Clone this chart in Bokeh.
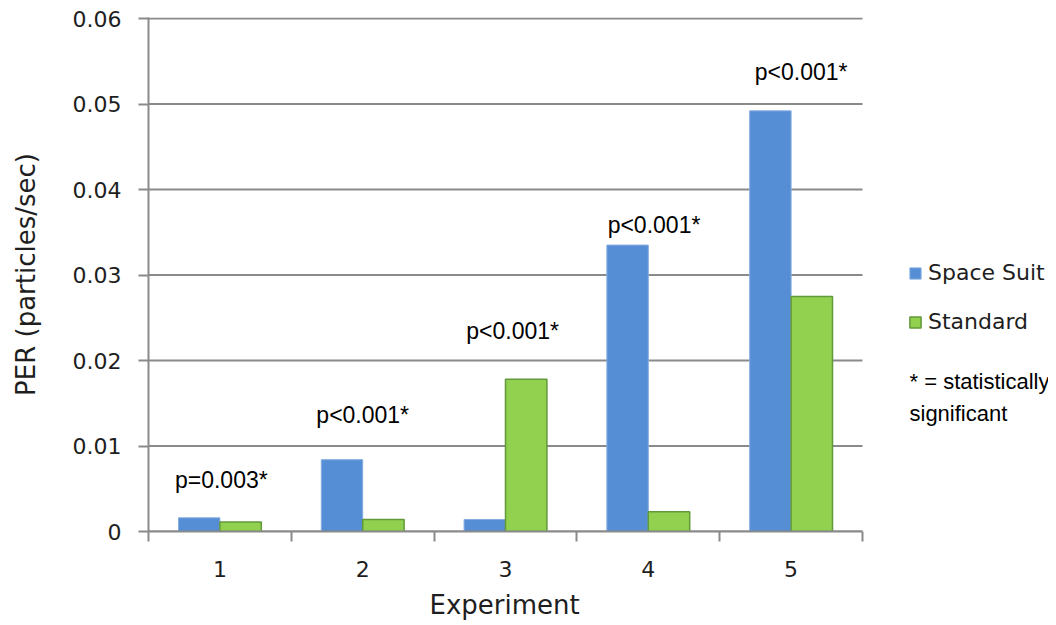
from bokeh.plotting import figure
from bokeh.models import FixedTicker, CustomJSTickFormatter, Legend, LegendItem, Label, ColumnDataSource, Title
from bokeh.core.properties import value
from bokeh.embed import file_html
from bokeh.resources import INLINE

experiments = [1, 2, 3, 4, 5]
space_suit = [0.0016, 0.0084, 0.0014, 0.0335, 0.0492]
standard = [0.0011, 0.0014, 0.0178, 0.0023, 0.0275]
p_labels = ["p=0.003*", "p<0.001*", "p<0.001*", "p<0.001*", "p<0.001*"]
p_label_x = [1.01, 2.0, 3.05, 4.04, 5.07]
p_label_y = [0.0060, 0.0136, 0.0235, 0.0359, 0.0537]
y_ticks = [0, 0.01, 0.02, 0.03, 0.04, 0.05, 0.06]
note_lines = ["* = statistically", "significant"]
note_y = [0.0176, 0.0138]

BLUE = "#558ED5"
GREEN = "#92D050"
GRID = "#8A8A8A"
TXT = "#1e1e1e"

x_start = experiments[0] - 0.5
x_end = experiments[-1] + 0.5
px_per_unit = 142.8
frame_w = 900

p = figure(frame_width=frame_w, frame_height=514,
           x_range=(x_start, x_start + frame_w / px_per_unit), y_range=(0, 0.06012),
           output_backend="svg", toolbar_location=None,
           min_border_left=148, min_border_right=0, min_border_top=17, min_border_bottom=92)
p.outline_line_color = None
p.background_fill_color = "white"

# horizontal gridlines limited to the category area
p.xgrid.grid_line_color = None
p.ygrid.grid_line_color = None
p.segment(x0=x_start, x1=x_end, y0=y_ticks, y1=y_ticks, line_color=GRID, line_width=2)

w = 0.29
bx = [e - w / 2 for e in experiments]
gx = [e + w / 2 for e in experiments]
r1 = p.vbar(x=bx, top=space_suit, width=w, bottom=0, fill_color=BLUE, line_color="#86ADE0", line_width=1)
r2 = p.vbar(x=gx, top=standard, width=w, bottom=0, fill_color=GREEN, line_color="#62993A", line_width=1.5)

src = ColumnDataSource(dict(x=p_label_x, y=p_label_y, t=p_labels))
p.text(x="x", y="y", text="t", source=src, text_align="center", text_baseline="middle",
       text_font=value("Liberation Sans"), text_font_size="23px", text_color="#000000")

# y axis
ya = p.yaxis[0]
ya.ticker = FixedTicker(ticks=y_ticks)
ya.formatter = CustomJSTickFormatter(code="return tick == 0 ? '0' : tick.toFixed(2);")
ya.axis_line_color = GRID
ya.axis_line_width = 2
ya.major_tick_line_color = GRID
ya.major_tick_line_width = 2
ya.major_tick_out = 10
ya.major_tick_in = 0
ya.minor_tick_line_color = None
ya.major_label_standoff = 17
ya.major_label_text_font = "DejaVu Sans"
ya.major_label_text_font_size = "22px"
ya.major_label_text_color = TXT
ya.axis_label = "PER (particles/sec)"
ya.axis_label_text_font = "DejaVu Sans"
ya.axis_label_text_font_size = "26px"
ya.axis_label_text_font_style = "normal"
ya.axis_label_text_color = TXT
ya.axis_label_standoff = 29

# x axis
xa = p.xaxis[0]
xa.bounds = (x_start, x_end)
xa.ticker = FixedTicker(ticks=experiments, minor_ticks=[e - 0.5 for e in experiments] + [x_end])
xa.axis_line_color = GRID
xa.axis_line_width = 2
xa.major_tick_line_color = None
xa.minor_tick_line_color = GRID
xa.minor_tick_line_width = 2
xa.minor_tick_out = 10
xa.minor_tick_in = 0
xa.major_tick_out = 0
xa.major_tick_in = 0
xa.major_label_standoff = 19
xa.major_label_text_font = "DejaVu Sans"
xa.major_label_text_font_size = "22px"
xa.major_label_text_color = TXT

# x axis title centred under the categories (not the wider frame)
x_title = Title(text="Experiment", align="left", offset=281, standoff=16,
                text_font="DejaVu Sans", text_font_size="26px", text_font_style="normal",
                text_color=TXT)
p.add_layout(x_title, "below")

legend = Legend(items=[LegendItem(label="Space Suit", renderers=[r1]),
                       LegendItem(label="Standard", renderers=[r2])],
                location=(760, 197))
legend.background_fill_alpha = 0
legend.border_line_color = None
legend.glyph_width = 14
legend.glyph_height = 14
legend.label_text_font = "DejaVu Sans"
legend.label_text_font_size = "22px"
legend.label_text_color = TXT
legend.spacing = 24
legend.label_standoff = 6
legend.padding = 0
legend.margin = 0
p.add_layout(legend, "center")

note_x = x_start + (909 - 148) / px_per_unit
for line, ly in zip(note_lines, note_y):
    p.add_layout(Label(x=note_x, y=ly, text=line,
                       text_font="Liberation Sans", text_font_size="22px", text_color="#000000",
                       text_baseline="middle", text_align="left"))

open("out.html", "w").write(file_html(p, INLINE))
